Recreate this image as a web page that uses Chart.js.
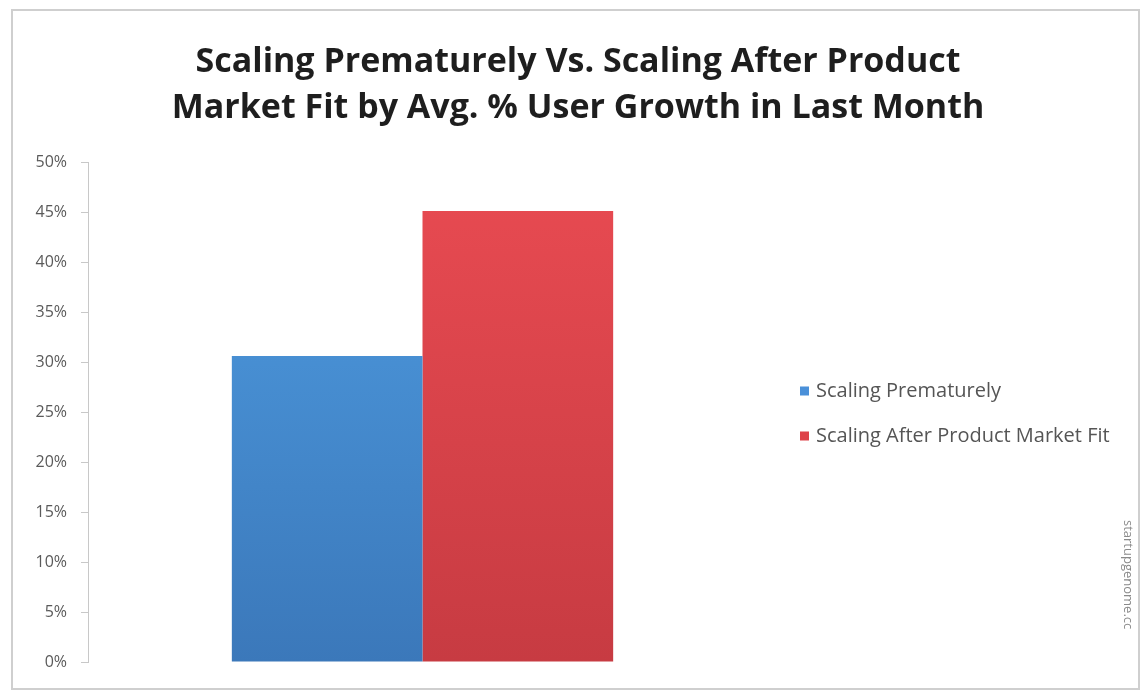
<!DOCTYPE html>
<html>
<head>
<meta charset="utf-8">
<script src="https://cdn.jsdelivr.net/npm/chart.js@4"></script>
<style>
  html, body { margin: 0; padding: 0; background: #fff; }
  #wrap { width: 1144px; height: 698px; position: relative; }
</style>
</head>
<body>
<div id="wrap"><canvas id="growthChart"></canvas></div>
<script>
// chart data
const categories = [""];
const seriesNames = ["Scaling Prematurely", "Scaling After Product Market Fit"];
const prematureValues = [0.306];
const afterFitValues = [0.451];
const yTicks = [0, 0.05, 0.1, 0.15, 0.2, 0.25, 0.3, 0.35, 0.4, 0.45, 0.5];
const titleLines = [
  "Scaling Prematurely Vs. Scaling After Product",
  "Market Fit by Avg. % User Growth in Last Month",
];
const sourceNote = "startupgenome.cc";

const legendColors = ["#4a90d9", "#de4249"];

// vertical gradient per bar colour
function barGradient(top, bottom) {
  return (context) => {
    const chart = context.chart;
    const area = chart.chartArea;
    if (!area) return top;
    const g = chart.ctx.createLinearGradient(0, area.top, 0, area.bottom);
    g.addColorStop(0, top);
    g.addColorStop(1, bottom);
    return g;
  };
}

// outer frame, title over the whole frame, legend and rotated source note
const framePlugin = {
  id: "frame",
  beforeDraw(chart) {
    const ctx = chart.ctx;
    ctx.save();
    ctx.fillStyle = "#fff";
    ctx.fillRect(0, 0, chart.width, chart.height);
    ctx.strokeStyle = "#cfcfcf";
    ctx.lineWidth = 2;
    ctx.strokeRect(12, 10, chart.width - 17, chart.height - 19);
    ctx.restore();
  },
  afterDraw(chart) {
    const ctx = chart.ctx;
    const area = chart.chartArea;
    ctx.save();
    // title
    ctx.font = "bold 34px 'Open Sans'";
    ctx.fillStyle = "#1e1e1e";
    ctx.textAlign = "center";
    ctx.textBaseline = "middle";
    titleLines.forEach((line, i) => {
      ctx.fillText(line, 578, 62 + i * 46);
    });
    // legend
    ctx.textAlign = "left";
    ctx.font = "20px 'Open Sans'";
    const mid = 414;
    chart.data.datasets.forEach((ds, i) => {
      const y = mid - 22.5 + i * 45;
      ctx.fillStyle = legendColors[i];
      ctx.fillRect(area.right + 43, y - 5, 9, 9);
      ctx.fillStyle = "#555";
      ctx.fillText(ds.label, area.right + 59, y);
    });
    // source note
    ctx.translate(1128, 520);
    ctx.rotate(Math.PI / 2);
    ctx.fillStyle = "#8a8a8a";
    ctx.font = "13px 'Open Sans'";
    ctx.fillText(sourceNote, 0, 0);
    ctx.restore();
  },
};

const ctx = document.getElementById("growthChart");

const data = {
  labels: categories,
  datasets: [
    {
      label: seriesNames[0],
      data: prematureValues,
      backgroundColor: barGradient("#4f9de2", "#3b78ba"),
    },
    {
      label: seriesNames[1],
      data: afterFitValues,
      backgroundColor: barGradient("#e94b52", "#c73b42"),
    },
  ],
};

const config = {
  type: "bar",
  data: data,
  options: {
    responsive: true,
    maintainAspectRatio: false,
    animation: false,
    layout: { padding: { top: 162, left: 28, right: 387, bottom: 36 } },
    datasets: {
      bar: { categoryPercentage: 0.57, barPercentage: 1.0 },
    },
    scales: {
      x: { display: false },
      y: {
        min: 0,
        max: 0.5,
        afterBuildTicks: (axis) => {
          axis.ticks = yTicks.map((v) => ({ value: v }));
        },
        afterFit: (axis) => {
          axis.width = 60;
        },
        grid: {
          display: true,
          drawOnChartArea: false,
          drawTicks: true,
          tickLength: 7,
          color: "#c8c8c8",
        },
        border: { display: true, color: "#c8c8c8", width: 1 },
        ticks: {
          color: "#5a5a5a",
          font: { family: "Open Sans", size: 16 },
          padding: 14,
          callback: (v) => Math.round(v * 100) + "%",
        },
      },
    },
    plugins: {
      title: { display: false },
      legend: { display: false },
      tooltip: { enabled: false },
    },
  },
  plugins: [framePlugin],
};

const growthChart = new Chart(ctx, config);
</script>
</body>
</html>
